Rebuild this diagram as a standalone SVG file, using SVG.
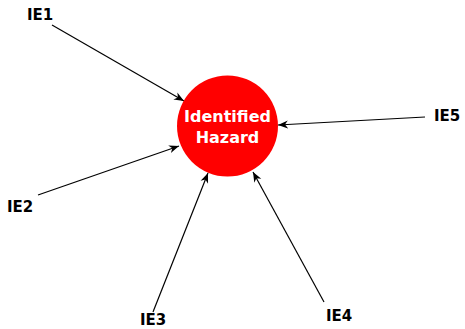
<svg xmlns="http://www.w3.org/2000/svg" width="465" height="329" viewBox="0 0 465 329">
<style>
.lbl{font-family:"DejaVu Sans",sans-serif;font-weight:bold;font-size:15px;fill:#000}
.in{font-family:"DejaVu Sans",sans-serif;font-weight:bold;font-size:16px;fill:#fff;text-anchor:middle}
.e{stroke:#000;stroke-width:1.2;fill:none;marker-end:url(#ah)}
</style>
<defs>
<marker id="ah" viewBox="0 0 10 10" refX="10" refY="5" markerWidth="10" markerHeight="10" markerUnits="userSpaceOnUse" orient="auto">
<path d="M0,1 L10,5 L0,9 L3,5 Z" fill="#000"/>
</marker>
</defs>
<rect width="465" height="329" fill="#fff"/>
<g id="edges">
<line class="e" x1="52" y1="25" x2="184" y2="101"/>
<line class="e" x1="38" y1="195" x2="179" y2="146"/>
<line class="e" x1="153" y1="312" x2="208" y2="173"/>
<line class="e" x1="324" y1="302" x2="253" y2="172"/>
<line class="e" x1="425" y1="117" x2="278" y2="125"/>
</g>
<g id="hazard">
<circle cx="227.5" cy="126" r="50.5" fill="#ff0000"/>
<text class="in" x="227.5" y="122">Identified</text>
<text class="in" x="227.5" y="143">Hazard</text>
</g>
<g id="IE1"><text class="lbl" x="27" y="20">IE1</text></g>
<g id="IE2"><text class="lbl" x="7" y="212">IE2</text></g>
<g id="IE3"><text class="lbl" x="140" y="325">IE3</text></g>
<g id="IE4"><text class="lbl" x="326" y="321">IE4</text></g>
<g id="IE5"><text class="lbl" x="434" y="121">IE5</text></g>
</svg>
